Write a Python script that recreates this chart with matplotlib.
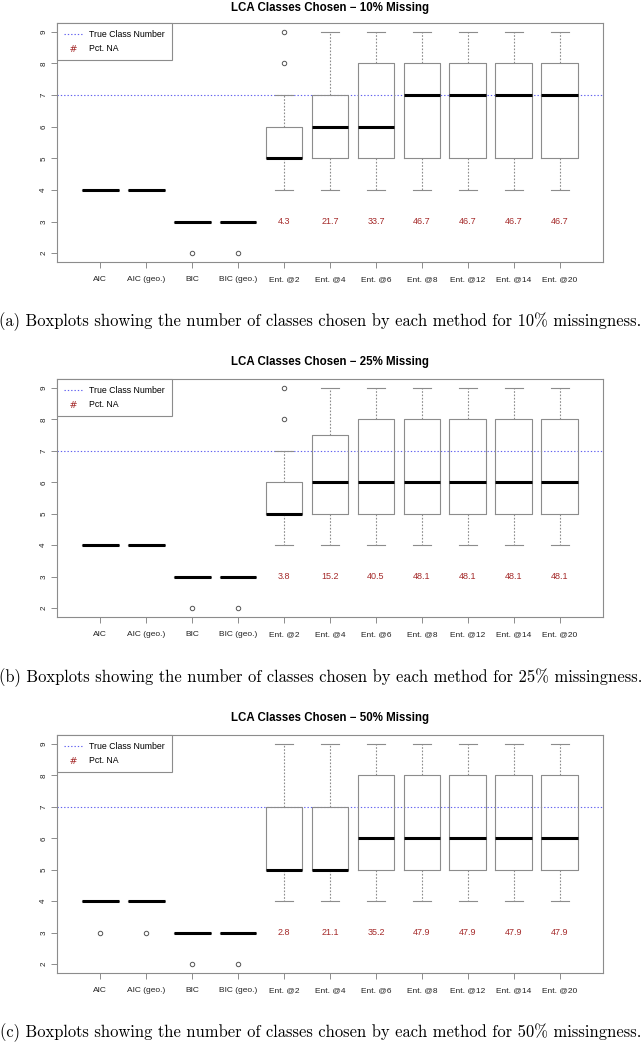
import matplotlib
matplotlib.use("Agg")
import matplotlib.pyplot as plt
from matplotlib.lines import Line2D

methods = ["AIC", "AIC (geo.)", "BIC", "BIC (geo.)", "Ent. @2", "Ent. @4",
           "Ent. @6", "Ent. @8", "Ent. @12", "Ent. @14", "Ent. @20"]
true_classes = 7

titles = ["LCA Classes Chosen \u2212 10% Missing",
          "LCA Classes Chosen \u2212 25% Missing",
          "LCA Classes Chosen \u2212 50% Missing"]
captions = ["(a) Boxplots showing the number of classes chosen by each method for 10% missingness.",
            "(b) Boxplots showing the number of classes chosen by each method for 25% missingness.",
            "(c) Boxplots showing the number of classes chosen by each method for 50% missingness."]

# 10% missing
med_10 = [4, 4, 3, 3, 5, 6, 6, 7, 7, 7, 7]
q1_10 = [4, 4, 3, 3, 5, 5, 5, 5, 5, 5, 5]
q3_10 = [4, 4, 3, 3, 6, 7, 8, 8, 8, 8, 8]
lo_10 = [4, 4, 3, 3, 4, 4, 4, 4, 4, 4, 4]
hi_10 = [4, 4, 3, 3, 7, 9, 9, 9, 9, 9, 9]
out_10 = [[], [], [2], [2], [8, 9], [], [], [], [], [], []]
na_10 = ["4.3", "21.7", "33.7", "46.7", "46.7", "46.7", "46.7"]

# 25% missing
med_25 = [4, 4, 3, 3, 5, 6, 6, 6, 6, 6, 6]
q1_25 = [4, 4, 3, 3, 5, 5, 5, 5, 5, 5, 5]
q3_25 = [4, 4, 3, 3, 6, 7.5, 8, 8, 8, 8, 8]
lo_25 = [4, 4, 3, 3, 4, 4, 4, 4, 4, 4, 4]
hi_25 = [4, 4, 3, 3, 7, 9, 9, 9, 9, 9, 9]
out_25 = [[], [], [2], [2], [8, 9], [], [], [], [], [], []]
na_25 = ["3.8", "15.2", "40.5", "48.1", "48.1", "48.1", "48.1"]

# 50% missing
med_50 = [4, 4, 3, 3, 5, 5, 6, 6, 6, 6, 6]
q1_50 = [4, 4, 3, 3, 5, 5, 5, 5, 5, 5, 5]
q3_50 = [4, 4, 3, 3, 7, 7, 8, 8, 8, 8, 8]
lo_50 = [4, 4, 3, 3, 4, 4, 4, 4, 4, 4, 4]
hi_50 = [4, 4, 3, 3, 9, 9, 9, 9, 9, 9, 9]
out_50 = [[3], [3], [2], [2], [], [], [], [], [], [], []]
na_50 = ["2.8", "21.1", "35.2", "47.9", "47.9", "47.9", "47.9"]

panels = [
    (med_10, q1_10, q3_10, lo_10, hi_10, out_10, na_10),
    (med_25, q1_25, q3_25, lo_25, hi_25, out_25, na_25),
    (med_50, q1_50, q3_50, lo_50, hi_50, out_50, na_50),
]

W, H = 641, 1050
fig = plt.figure(figsize=(W / 100, H / 100), dpi=100)

GRAY = "#8c8c8c"
RED = "#a52a2a"
BLUE = "#6060f0"

ax_left, ax_right = 57, 603
tops = [23, 379, 735]
bottoms = [262, 617, 973]
title_y = [8, 362, 718]
caption_y = [322, 678, 1033]

for i, (med, q1, q3, lo, hi, out, na) in enumerate(panels):
    ax = fig.add_axes([ax_left / W, 1 - bottoms[i] / H,
                       (ax_right - ax_left) / W, (bottoms[i] - tops[i]) / H])
    stats = []
    for k in range(len(methods)):
        stats.append(dict(med=med[k], q1=q1[k], q3=q3[k], whislo=lo[k],
                          whishi=hi[k], fliers=out[k], label=methods[k]))
    positions = list(range(1, len(methods) + 1))
    ax.bxp(stats, positions=positions, widths=0.8, showfliers=True,
           boxprops=dict(color=GRAY, linewidth=0.8),
           whiskerprops=dict(color=GRAY, linewidth=0.8, linestyle=(0, (1.5, 1.5))),
           capprops=dict(color=GRAY, linewidth=0.8),
           medianprops=dict(color="black", linewidth=2.2, solid_capstyle="butt"),
           flierprops=dict(marker="o", markerfacecolor="none",
                           markeredgecolor="#555555", markersize=3.2,
                           markeredgewidth=0.7),
           capwidths=0.4)
    ax.axhline(true_classes, color=BLUE, linestyle=(0, (1.2, 1.8)),
               linewidth=0.8, zorder=0.5)
    for j, txt in enumerate(na):
        ax.text(positions[4 + j], 3, txt, color=RED, fontsize=6.5,
                ha="center", va="center", family="Liberation Sans")
    ax.set_xlim(0.06, 11.94)
    ax.set_ylim(1.72, 9.28)
    ax.set_yticks(range(2, 10))
    ax.set_yticklabels([str(v) for v in range(2, 10)], rotation=90,
                       va="center", fontsize=5.8, family="Liberation Sans")
    ax.set_xticks(positions)
    ax.set_xticklabels(methods, fontsize=6, family="Liberation Sans")
    ax.tick_params(axis="both", color=GRAY, length=4, width=0.7, pad=3,
                   labelcolor="#222222")
    ax.tick_params(axis="x", pad=6)
    for s in ax.spines.values():
        s.set_color(GRAY)
        s.set_linewidth(0.8)
    handles = [Line2D([], [], color=BLUE, linestyle=(0, (1.2, 1.8)), linewidth=0.8),
               Line2D([], [], linestyle="none", marker="$\\#$", color=RED,
                      markersize=5, markeredgewidth=0)]
    leg = ax.legend(handles, ["True Class Number", "Pct. NA"], loc="upper left",
                    borderaxespad=0, fancybox=False, framealpha=1,
                    edgecolor=GRAY, prop=dict(family="Liberation Sans", size=6.3),
                    handlelength=2.0, borderpad=0.8, labelspacing=0.55,
                    handletextpad=0.9)
    leg.get_frame().set_linewidth(0.8)
    fig.text(0.5 * (ax_left + ax_right) / W, 1 - title_y[i] / H, titles[i],
             ha="center", va="center", fontsize=8.3, fontweight="bold",
             family="Liberation Sans")
    fig.text(0.5, 1 - caption_y[i] / H, captions[i], ha="center", va="center",
             fontsize=11.9, family="cmr10")

fig.savefig("out.png", dpi=100)
